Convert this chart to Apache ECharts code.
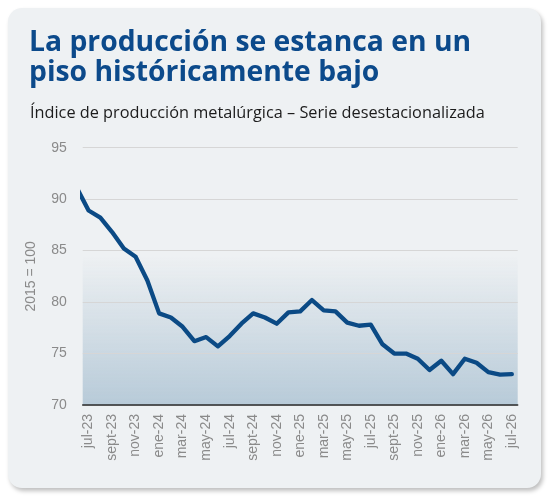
<!DOCTYPE html>
<html>
<head>
<meta charset="utf-8">
<script src="https://cdn.jsdelivr.net/npm/echarts@6/dist/echarts.min.js"></script>
<style>
    html, body { margin: 0; padding: 0; background: #ffffff; }
    #card {
        position: absolute; left: 8px; top: 8px; width: 533px; height: 480px;
        background: #eef1f3; border-radius: 14px;
        box-shadow: 2px 3px 4px rgba(0, 0, 0, 0.25);
    }
    #chart { position: absolute; left: 0; top: 0; width: 550px; height: 498px; }
</style>
</head>
<body>
<div id="card"></div>
<div id="chart"></div>
<script>
// meses (el primero, jun-23, queda recortado a la izquierda)
var meses = ['jun-23',
    'jul-23', 'ago-23', 'sept-23', 'oct-23', 'nov-23', 'dic-23',
    'ene-24', 'feb-24', 'mar-24', 'abr-24', 'may-24', 'jun-24',
    'jul-24', 'ago-24', 'sept-24', 'oct-24', 'nov-24', 'dic-24',
    'ene-25', 'feb-25', 'mar-25', 'abr-25', 'may-25', 'jun-25',
    'jul-25', 'ago-25', 'sept-25', 'oct-25', 'nov-25', 'dic-25',
    'ene-26', 'feb-26', 'mar-26', 'abr-26', 'may-26', 'jun-26',
    'jul-26'];

var indice = [91.1,
    88.9, 88.2, 86.8, 85.2, 84.4, 82.1,
    78.9, 78.5, 77.6, 76.2, 76.6, 75.7,
    76.7, 77.9, 78.9, 78.5, 77.9, 79.0,
    79.1, 80.2, 79.2, 79.1, 78.0, 77.7,
    77.8, 75.9, 75.0, 75.0, 74.5, 73.4,
    74.3, 73.0, 74.5, 74.1, 73.2, 72.95,
    73.0];

var ejeY = [70, 75, 80, 85, 90, 95];

// etiquetas cada dos meses, desde jul-23
var posEtiquetas = [];
for (var i = 0; i <= 36; i += 2) {
    posEtiquetas.push(i);
}

var puntos = indice.map(function (v, i) {
    return [i - 1, v];
});

var myChart = echarts.init(document.getElementById('chart'));

option = {
    backgroundColor: 'transparent',
    animation: false,
    title: [{
        text: 'La producción se estanca en un\npiso históricamente bajo',
        left: 24,
        top: 22.5,
        textStyle: {
            fontFamily: 'Open Sans',
            fontWeight: 'bold',
            fontSize: 28.3,
            lineHeight: 30,
            color: '#0c4a8b'
        }
    }, {
        text: 'Índice de producción metalúrgica – Serie desestacionalizada',
        left: 25,
        top: 100.5,
        textStyle: {
            fontFamily: 'Open Sans',
            fontWeight: 'normal',
            fontSize: 16.3,
            color: '#1c1c1c'
        }
    }],
    grid: {
        left: 82.7,
        right: 32.3,
        top: 147.7,
        bottom: 93,
        show: true,
        borderWidth: 0,
        backgroundColor: new echarts.graphic.LinearGradient(0, 0, 0, 1, [
            { offset: 0, color: 'rgba(183, 202, 216, 0)' },
            { offset: 0.42, color: 'rgba(183, 202, 216, 0)' },
            { offset: 1, color: 'rgba(183, 202, 216, 1)' }
        ])
    },
    xAxis: {
        type: 'value',
        min: -0.5,
        max: 36.5,
        splitLine: { show: false },
        axisTick: { show: false },
        axisLine: { show: true, lineStyle: { color: '#2b2b2b', width: 1.5 } },
        axisLabel: {
            customValues: posEtiquetas,
            rotate: 90,
            margin: 9,
            fontSize: 14,
            fontFamily: 'Liberation Sans',
            color: '#8a8a8a',
            formatter: function (v) {
                return meses[v + 1];
            }
        }
    },
    yAxis: {
        type: 'value',
        min: ejeY[0],
        max: ejeY[ejeY.length - 1],
        interval: 5,
        name: '2015 = 100',
        nameLocation: 'middle',
        nameGap: 45,
        nameTextStyle: {
            fontSize: 14,
            fontFamily: 'Liberation Sans',
            color: '#8a8a8a'
        },
        axisLine: { show: false },
        axisTick: { show: false },
        axisLabel: {
            margin: 16,
            fontSize: 14,
            fontFamily: 'Liberation Sans',
            color: '#8a8a8a'
        },
        splitLine: { lineStyle: { color: '#d6d6d6', width: 1.2 } }
    },
    series: [{
        type: 'line',
        data: puntos,
        showSymbol: false,
        clip: true,
        lineStyle: { color: '#0b4a85', width: 4.3, join: 'round', cap: 'round' }
    }]
};

myChart.setOption(option);
</script>
</body>
</html>
